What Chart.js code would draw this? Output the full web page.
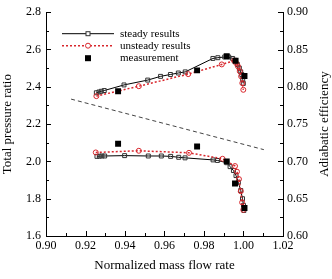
<!DOCTYPE html>
<html><head><meta charset="utf-8">
<script src="https://cdn.jsdelivr.net/npm/chart.js@4/dist/chart.umd.min.js"></script>
<style>html,body{margin:0;padding:0;background:#fff}#wrap{width:332px;height:279px}</style>
</head><body><div id="wrap"><canvas id="c" width="332" height="279"></canvas></div>
<script>
// ---- Data ----
// Adiabatic efficiency (right axis)
const effSteadyX = [0.9255,0.9268,0.9280,0.9295,0.9395,0.9515,0.9580,0.9630,0.9670,0.9705,0.9845,0.9870,0.9905,0.9925,0.9945,0.9957,0.9969,0.9979,0.9986,0.9991,0.9996,0.9999];
const effSteadyY = [0.792,0.793,0.794,0.795,0.8025,0.809,0.814,0.8165,0.8185,0.820,0.838,0.839,0.840,0.840,0.838,0.8355,0.830,0.825,0.820,0.8165,0.810,0.8045];
const effUnsteadyX = [0.9255,0.9470,0.9720,0.9890,0.9952,0.9962,0.9972,0.9981,0.9988,0.9994,0.9999];
const effUnsteadyY = [0.7875,0.8008,0.817,0.830,0.835,0.832,0.8275,0.821,0.814,0.805,0.796];
const effMeasX = [0.9365,0.9765,0.9915,0.9960,1.0005];
const effMeasY = [0.794,0.822,0.841,0.835,0.8145];
// Total pressure ratio (left axis)
const prSteadyX = [0.9258,0.9270,0.9283,0.9297,0.9398,0.9518,0.9584,0.9631,0.9672,0.9704,0.9846,0.9868,0.9915,0.9932,0.9949,0.9962,0.9974,0.9986,0.9995,1.0000,1.0002];
const prSteadyY = [2.027,2.028,2.029,2.029,2.031,2.029,2.029,2.027,2.022,2.019,2.008,2.005,1.993,1.972,1.951,1.924,1.888,1.844,1.800,1.764,1.737];
const prUnsteadyX = [0.9252,0.9470,0.9724,0.9894,0.9957,0.9967,0.9977,0.9986,0.9993,0.9999];
const prUnsteadyY = [2.048,2.057,2.046,2.014,1.975,1.945,1.905,1.840,1.780,1.740];
const prMeasX = [0.9365,0.9765,0.9915,0.9957,1.0005];
const prMeasY = [2.095,2.080,2.000,1.882,1.750];
// Dashed guide line (left axis units)
const guideX = [0.9127,1.0103];
const guideY = [2.334,2.063];
// Axis labels / ranges
const xTitle = 'Normalized mass flow rate';
const yTitle = 'Total pressure ratio';
const y2Title = 'Adiabatic efficiency';
const legendLabels = ['steady results','unsteady results','measurement'];
const xRange = [0.90,1.02], yRange = [1.6,2.8], y2Range = [0.60,0.90];

const pts = (xs, ys) => xs.map((x,i)=>({x, y: ys[i]}));
const RED = '#d8262c';
const FONT = "'Liberation Serif','Times New Roman',serif";

const steadyStyle = {borderColor:'#000',backgroundColor:'#fff',borderWidth:1,pointStyle:'rect',pointRadius:2.8,pointBorderWidth:1,pointBorderColor:'#333',pointBackgroundColor:'rgba(255,255,255,0)',showLine:true,tension:0};
const unsteadyStyle = {borderColor:RED,backgroundColor:'#fff',borderWidth:1.5,borderDash:[2,2],pointStyle:'circle',pointRadius:2.5,pointBorderWidth:1,pointBorderColor:RED,pointBackgroundColor:'rgba(255,255,255,0)',showLine:true,tension:0};
const measStyle = {borderColor:'#000',backgroundColor:'#000',pointStyle:'rect',pointRadius:4.2,pointBorderWidth:0,pointBackgroundColor:'#000',showLine:false};

const datasets = [
  Object.assign({label:legendLabels[2], data:pts(effMeasX,effMeasY), yAxisID:'y2'}, measStyle),
  Object.assign({label:legendLabels[2], data:pts(prMeasX,prMeasY), yAxisID:'y'}, measStyle),
  Object.assign({label:legendLabels[1], data:pts(effUnsteadyX,effUnsteadyY), yAxisID:'y2'}, unsteadyStyle),
  Object.assign({label:legendLabels[1], data:pts(prUnsteadyX,prUnsteadyY), yAxisID:'y'}, unsteadyStyle),
  Object.assign({label:legendLabels[0], data:pts(effSteadyX,effSteadyY), yAxisID:'y2'}, steadyStyle),
  Object.assign({label:legendLabels[0], data:pts(prSteadyX,prSteadyY), yAxisID:'y'}, steadyStyle),
  {label:'guide', data:pts(guideX,guideY), yAxisID:'y', showLine:true, borderColor:'#444', borderWidth:1, borderDash:[4,3], pointRadius:0}
];

const inwardTicks = {
  id:'inwardTicks',
  afterDraw(chart){
    const ctx = chart.ctx, a = chart.chartArea;
    const sx = chart.scales.x, sy = chart.scales.y, sy2 = chart.scales.y2;
    ctx.save(); ctx.strokeStyle='#000'; ctx.lineWidth=1; ctx.setLineDash([]);
    ctx.beginPath();
    for (let i=0;i<=12;i++){
      const px = Math.round(sx.getPixelForValue(xRange[0]+i*0.01))+0.5;
      const len = i%2===0?5:3;
      ctx.moveTo(px, a.bottom); ctx.lineTo(px, a.bottom-len);
      const py = Math.round(sy.getPixelForValue(yRange[0]+i*0.1))+0.5;
      ctx.moveTo(a.left, py); ctx.lineTo(a.left+len, py);
      const py2 = Math.round(sy2.getPixelForValue(y2Range[0]+i*0.025))+0.5;
      ctx.moveTo(a.right, py2); ctx.lineTo(a.right-len, py2);
    }
    ctx.stroke();
    // right-axis title, reading bottom-to-top like the reference
    const s2 = chart.scales.y2;
    ctx.save();
    ctx.translate(s2.right - 7, (a.top + a.bottom)/2);
    ctx.rotate(-Math.PI/2);
    ctx.fillStyle='#000'; ctx.font='13px '+FONT; ctx.textAlign='center'; ctx.textBaseline='middle';
    ctx.fillText(y2Title, 0, 0);
    ctx.restore();
    ctx.restore();
  }
};

const innerLegend = {
  id:'innerLegend',
  afterDraw(chart){
    const ctx = chart.ctx, a = chart.chartArea;
    const x0 = a.left+16, x1 = a.left+68, xm = (x0+x1)/2, xt = a.left+74;
    const rows = [a.top+21.5, a.top+33.5, a.top+46];
    ctx.save();
    // steady
    ctx.strokeStyle='#000'; ctx.lineWidth=1; ctx.setLineDash([]);
    ctx.beginPath(); ctx.moveTo(x0,rows[0]); ctx.lineTo(x1,rows[0]); ctx.stroke();
    ctx.fillStyle='#fff'; ctx.fillRect(xm-2,rows[0]-2,4,4);
    ctx.strokeStyle='#333'; ctx.strokeRect(xm-2,rows[0]-2,4,4);
    // unsteady
    ctx.strokeStyle=RED; ctx.lineWidth=1.5; ctx.setLineDash([2,2]);
    ctx.beginPath(); ctx.moveTo(x0,rows[1]); ctx.lineTo(x1,rows[1]); ctx.stroke();
    ctx.setLineDash([]); ctx.lineWidth=1;
    ctx.fillStyle='#fff'; ctx.beginPath(); ctx.arc(xm,rows[1],2.5,0,Math.PI*2); ctx.fill(); ctx.stroke();
    // measurement
    ctx.fillStyle='#000'; ctx.fillRect(xm-3,rows[2]-3,6,6);
    // texts
    ctx.fillStyle='#000'; ctx.font = '11px '+FONT; ctx.textBaseline='middle'; ctx.textAlign='left';
    legendLabels.forEach((t,i)=>ctx.fillText(t, xt, rows[i]));
    ctx.restore();
  }
};

const tickFont = {family:FONT, size:12};
const titleFont = {family:FONT, size:13};

new Chart(document.getElementById('c'), {
  type:'scatter',
  data:{datasets},
  options:{
    responsive:false, animation:false, devicePixelRatio:1,
    layout:{padding:{top:11,left:0,right:0,bottom:0}},
    plugins:{legend:{display:false}, tooltip:{enabled:false}},
    scales:{
      x:{type:'linear', min:xRange[0], max:xRange[1],
         afterFit:s=>{s.height=43;},
         grid:{display:false, drawTicks:false}, border:{display:true,color:'#000',width:1},
         ticks:{stepSize:0.02, autoSkip:false, maxRotation:0, padding:3, color:'#000', font:tickFont, callback:v=>v.toFixed(2)},
         title:{display:true, text:xTitle, color:'#000', font:titleFont, padding:{top:6,bottom:6}}},
      y:{type:'linear', position:'left', min:yRange[0], max:yRange[1],
         afterFit:s=>{s.width=46;},
         grid:{display:false, drawTicks:false}, border:{display:true,color:'#000',width:1},
         ticks:{stepSize:0.2, padding:5, color:'#000', font:tickFont, callback:v=>v.toFixed(1)},
         title:{display:true, text:yTitle, color:'#000', font:titleFont, padding:{top:0,bottom:0}}},
      y2:{type:'linear', position:'right', min:y2Range[0], max:y2Range[1],
         afterFit:s=>{s.width=49;},
         grid:{display:false, drawTicks:false}, border:{display:true,color:'#000',width:1},
         ticks:{stepSize:0.05, padding:4, color:'#000', font:tickFont, callback:v=>v.toFixed(2)},
         title:{display:false}}
    }
  },
  plugins:[inwardTicks, innerLegend]
});
</script>
</body></html>
